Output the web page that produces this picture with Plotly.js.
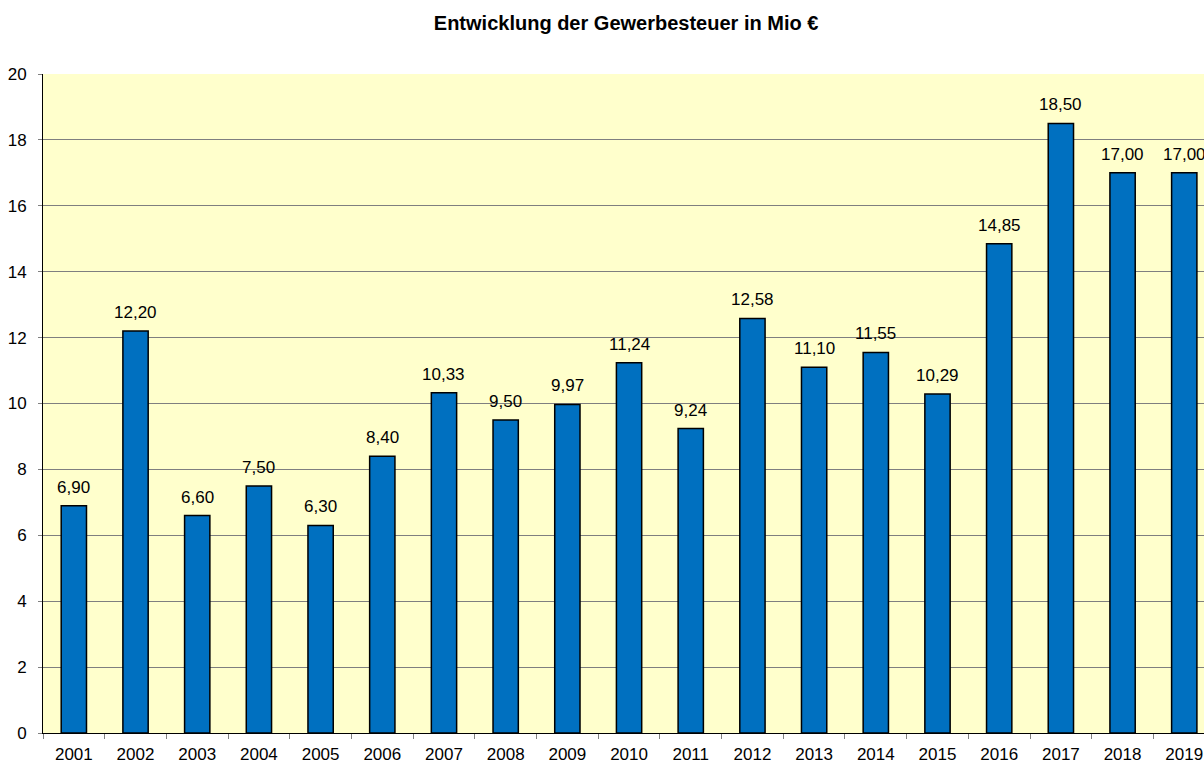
<!DOCTYPE html>
<html>
<head>
<meta charset="utf-8">
<script src="https://cdn.plot.ly/plotly-3.0.1.min.js"></script>
<style>html,body{margin:0;padding:0;background:#fff;overflow:hidden}</style>
</head>
<body>
<div id="chart" style="width:1204px;height:765px"></div>
<script>
const years = ["2001","2002","2003","2004","2005","2006","2007","2008","2009","2010","2011","2012","2013","2014","2015","2016","2017","2018","2019"];
const values = [6.90,12.20,6.60,7.50,6.30,8.40,10.33,9.50,9.97,11.24,9.24,12.58,11.10,11.55,10.29,14.85,18.50,17.00,17.00];
const titleText = "Entwicklung der Gewerbesteuer in Mio €";

const FONT = "Liberation Sans, Arial, sans-serif";

const trace = {
  type: "bar",
  x: years,
  y: values,
  marker: {color: "#0070C0", line: {color: "#000000", width: 1.5}},
  width: 0.41,
  hoverinfo: "skip"
};

const labels = years.map(function (yr, i) {
  return {
    x: i, y: values[i], xref: "x", yref: "y",
    text: values[i].toFixed(2).replace(".", ","),
    showarrow: false, yanchor: "bottom", xanchor: "center", yshift: 7,
    font: {family: FONT, size: 17, color: "#000000"}
  };
});

const layout = {
  width: 1204, height: 765,
  margin: {l: 43, r: 0, t: 74, b: 32, pad: 0},
  paper_bgcolor: "#ffffff",
  plot_bgcolor: "#FFFFCC",
  showlegend: false,
  title: {text: "<b>" + titleText + "</b>", x: 0.52, xanchor: "center", y: 0.97, yanchor: "middle",
          font: {family: FONT, size: 20, color: "#000"}},
  font: {family: FONT, size: 17, color: "#000"},
  annotations: labels,
  xaxis: {
    type: "category",
    range: [-0.5, 18.32],
    showline: true, linecolor: "#000", linewidth: 1,
    ticks: "outside", tickson: "boundaries", ticklen: 5, tickcolor: "#808080", tickwidth: 1,
    showgrid: false,
    tickfont: {family: FONT, size: 17, color: "#000"},
    ticklabelstandoff: 6,
    fixedrange: true
  },
  yaxis: {
    range: [0, 20],
    dtick: 2,
    showline: true, linecolor: "#000", linewidth: 1,
    ticks: "outside", ticklen: 4, tickcolor: "#808080",
    showgrid: true, gridcolor: "#7f7f7f", gridwidth: 1,
    zeroline: false,
    tickfont: {family: FONT, size: 17, color: "#000"},
    ticklabelstandoff: 8,
    fixedrange: true
  }
};

Plotly.newPlot("chart", [trace], layout, {displayModeBar: false, staticPlot: true});
</script>
</body>
</html>
